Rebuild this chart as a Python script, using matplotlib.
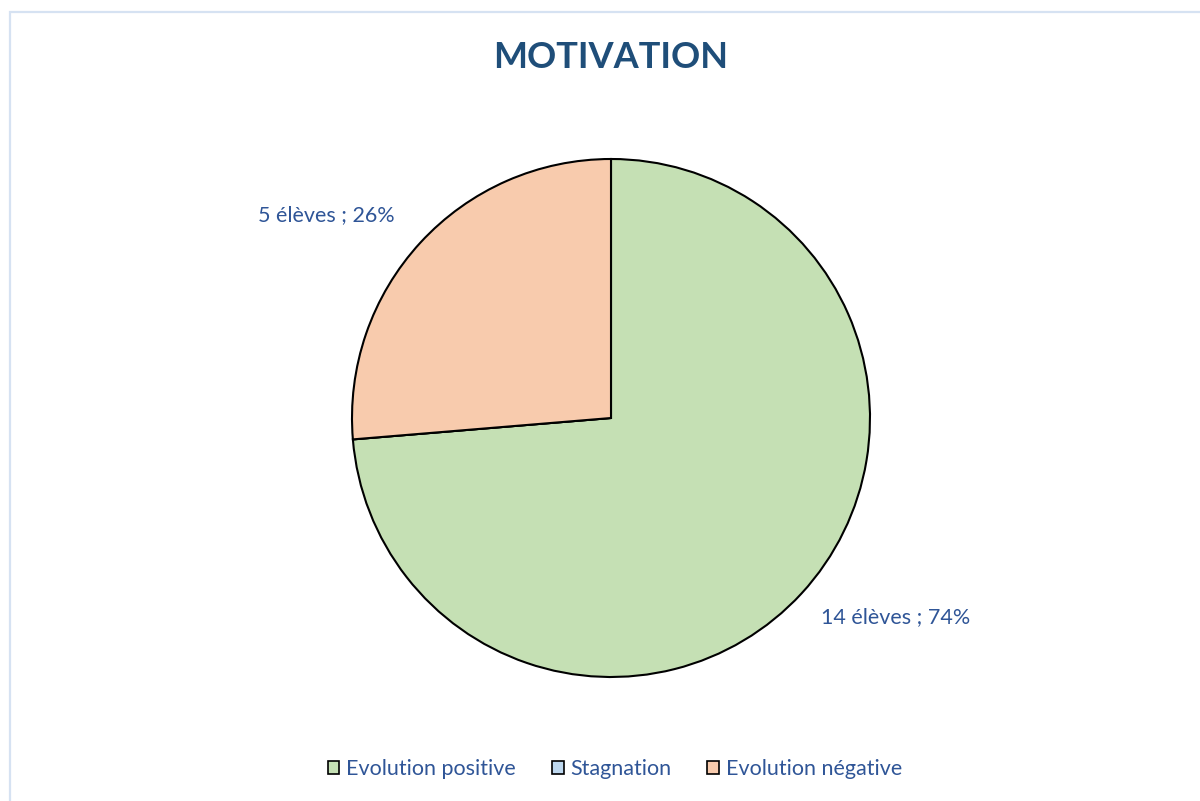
import matplotlib
matplotlib.use("Agg")
import matplotlib.pyplot as plt
from matplotlib.patches import Patch, Rectangle

plt.rcParams["font.family"] = ["Lato", "DejaVu Sans"]

# data
categories = ["Evolution positive", "Stagnation", "Evolution négative"]
counts = [14, 0, 5]
colors = ["#C5E0B4", "#BDD7EE", "#F8CBAD"]
title = "MOTIVATION"
text_color = "#1F4E79"
label_color = "#2F5597"

total = sum(counts)

fig = plt.figure(figsize=(12, 8.01), dpi=100)

# light chart-area border (left and top visible, rest cut off)
fig.patches.append(Rectangle((10 / 1200, -0.1), 1.2, (801 - 12) / 801 + 0.1,
                             transform=fig.transFigure, fill=False,
                             edgecolor="#D6E2F2", linewidth=1.6))

# pie axes: 518 px square, centred at (611, 418)
cx, cy, r = 611, 418, 259
ax = fig.add_axes([(cx - r) / 1200, (801 - cy - r) / 801, 2 * r / 1200, 2 * r / 801])
wedges, _ = ax.pie(counts, colors=colors, startangle=90, counterclock=False,
                   wedgeprops={"edgecolor": "black", "linewidth": 1.5})
ax.set_xlim(-1, 1)
ax.set_ylim(-1, 1)

# data labels (Excel "best fit" positions)
label_pos = {0: (1.10, -0.77), 2: (-1.10, 0.785)}
for i, (x, y) in label_pos.items():
    pct = round(100 * counts[i] / total)
    ax.text(x, y, f"{counts[i]} élèves ; {pct}%", ha="center", va="center",
            fontsize=15.5, color=label_color)

fig.text(611 / 1200, 1 - 58 / 801, title, ha="center", va="center",
         fontsize=26, fontweight="bold", color=text_color)

handles = [Patch(facecolor=c, edgecolor="black", linewidth=1.2) for c in colors]
fig.legend(handles, categories, loc="center", bbox_to_anchor=(615 / 1200, 1 - 769 / 801),
           ncol=3, frameon=False, fontsize=15.5, handlelength=0.55, handleheight=0.55,
           handletextpad=0.33, columnspacing=1.65, labelcolor=label_color)

fig.savefig("out.png", dpi=100)
